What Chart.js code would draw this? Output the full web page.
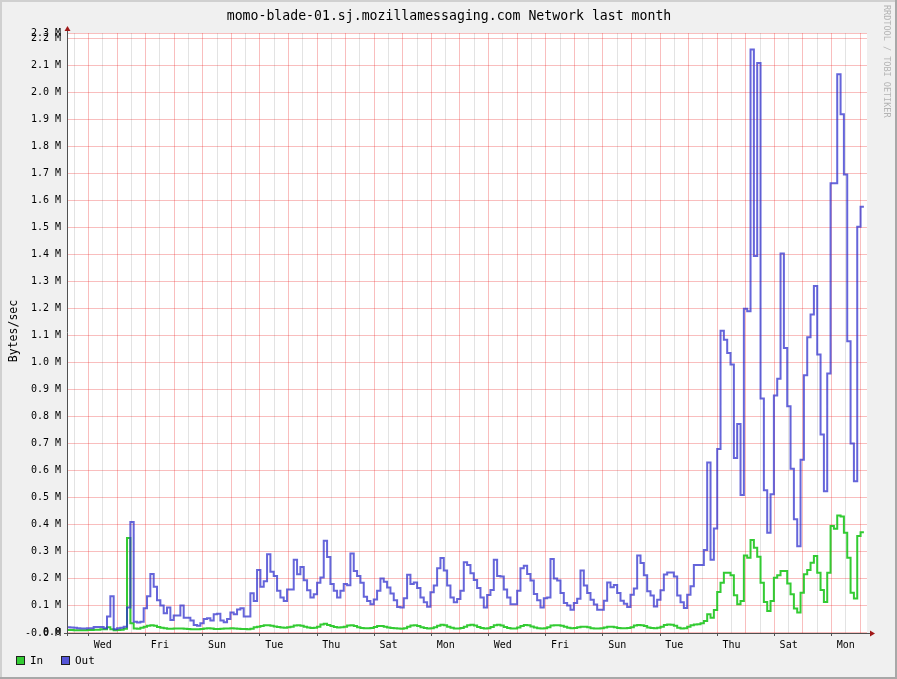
<!DOCTYPE html>
<html>
<head>
<meta charset="utf-8">
<title>momo-blade-01 Network last month</title>
<script src="https://cdn.jsdelivr.net/npm/chart.js@4.4.1/dist/chart.umd.min.js"></script>
<style>
  html, body { margin: 0; padding: 0; background: #f0f0f0; }
  canvas { display: block; }
</style>
</head>
<body>
<canvas id="chart-network" width="897" height="679"></canvas>
<script>
// samples are 2.8 h averages, first one starts 18 h before the first Wednesday 00:00
const startHour = -18;
const stepHours = 2.8;

// Bytes/sec in millions
const inValues = [
    0.010, 0.010, 0.009, 0.009, 0.009, 0.009, 0.010, 0.010, 0.011, 0.011,
    0.012, 0.012, 0.020, 0.012, 0.009, 0.010, 0.011, 0.014, 0.350, 0.035,
    0.015, 0.014, 0.018, 0.022, 0.025, 0.027, 0.025, 0.021, 0.018, 0.016,
    0.014, 0.014, 0.015, 0.015, 0.015, 0.014, 0.013, 0.012, 0.012, 0.012,
    0.013, 0.015, 0.016, 0.015, 0.013, 0.013, 0.014, 0.015, 0.015, 0.016,
    0.015, 0.014, 0.013, 0.013, 0.012, 0.014, 0.020, 0.022, 0.024, 0.027,
    0.027, 0.025, 0.023, 0.021, 0.019, 0.018, 0.020, 0.022, 0.026, 0.027,
    0.025, 0.022, 0.019, 0.017, 0.018, 0.022, 0.030, 0.033, 0.028, 0.024,
    0.021, 0.019, 0.020, 0.022, 0.026, 0.027, 0.024, 0.020, 0.017, 0.016,
    0.016, 0.017, 0.021, 0.024, 0.024, 0.022, 0.019, 0.017, 0.016, 0.015,
    0.014, 0.016, 0.022, 0.026, 0.027, 0.024, 0.020, 0.017, 0.015, 0.016,
    0.020, 0.025, 0.029, 0.027, 0.022, 0.018, 0.015, 0.015, 0.017, 0.022,
    0.027, 0.029, 0.026, 0.021, 0.017, 0.015, 0.016, 0.021, 0.027, 0.029,
    0.026, 0.021, 0.017, 0.015, 0.015, 0.019, 0.024, 0.028, 0.027, 0.023,
    0.019, 0.016, 0.015, 0.016, 0.020, 0.026, 0.027, 0.027, 0.025, 0.022,
    0.018, 0.016, 0.017, 0.020, 0.022, 0.022, 0.020, 0.016, 0.015, 0.015,
    0.016, 0.019, 0.022, 0.022, 0.020, 0.017, 0.016, 0.016, 0.017, 0.020,
    0.026, 0.028, 0.027, 0.024, 0.019, 0.017, 0.016, 0.018, 0.022, 0.028,
    0.030, 0.029, 0.025, 0.018, 0.015, 0.016, 0.022, 0.027, 0.030, 0.031,
    0.035, 0.043, 0.068, 0.055, 0.084, 0.150, 0.185, 0.222, 0.222, 0.212,
    0.138, 0.105, 0.117, 0.286, 0.277, 0.343, 0.314, 0.281, 0.185, 0.113,
    0.080, 0.117, 0.203, 0.212, 0.228, 0.228, 0.182, 0.142, 0.089, 0.074,
    0.148, 0.216, 0.232, 0.259, 0.284, 0.222, 0.158, 0.113, 0.222, 0.395,
    0.385, 0.434, 0.430, 0.370, 0.277, 0.148, 0.126, 0.358, 0.372
];
const outValues = [
    0.020, 0.019, 0.018, 0.016, 0.015, 0.015, 0.016, 0.016, 0.021, 0.021,
    0.021, 0.016, 0.060, 0.135, 0.012, 0.016, 0.018, 0.022, 0.093, 0.410,
    0.040, 0.037, 0.040, 0.090, 0.135, 0.217, 0.170, 0.120, 0.100, 0.072,
    0.093, 0.047, 0.063, 0.063, 0.100, 0.055, 0.055, 0.045, 0.028, 0.025,
    0.035, 0.050, 0.053, 0.045, 0.068, 0.070, 0.045, 0.038, 0.050, 0.074,
    0.068, 0.086, 0.090, 0.060, 0.060, 0.146, 0.117, 0.232, 0.170, 0.190,
    0.290, 0.225, 0.210, 0.155, 0.130, 0.117, 0.160, 0.160, 0.270, 0.216,
    0.243, 0.194, 0.157, 0.130, 0.142, 0.185, 0.204, 0.340, 0.280, 0.180,
    0.155, 0.130, 0.155, 0.180, 0.175, 0.293, 0.228, 0.210, 0.185, 0.133,
    0.117, 0.105, 0.123, 0.155, 0.200, 0.188, 0.167, 0.145, 0.120, 0.095,
    0.093, 0.127, 0.214, 0.180, 0.186, 0.165, 0.130, 0.112, 0.096, 0.149,
    0.174, 0.238, 0.276, 0.230, 0.174, 0.130, 0.112, 0.124, 0.155, 0.261,
    0.250, 0.220, 0.195, 0.165, 0.130, 0.093, 0.139, 0.158, 0.270, 0.210,
    0.208, 0.160, 0.130, 0.105, 0.105, 0.155, 0.238, 0.248, 0.217, 0.193,
    0.143, 0.120, 0.093, 0.127, 0.130, 0.273, 0.200, 0.193, 0.147, 0.110,
    0.100, 0.085, 0.110, 0.125, 0.230, 0.174, 0.147, 0.122, 0.104, 0.085,
    0.085, 0.118, 0.186, 0.168, 0.176, 0.147, 0.118, 0.107, 0.095, 0.140,
    0.163, 0.286, 0.258, 0.212, 0.153, 0.137, 0.097, 0.122, 0.157, 0.215,
    0.223, 0.223, 0.208, 0.137, 0.112, 0.091, 0.140, 0.172, 0.250, 0.250,
    0.250, 0.306, 0.630, 0.270, 0.386, 0.680, 1.118, 1.085, 1.036, 0.993,
    0.647, 0.773, 0.510, 1.200, 1.190, 2.160, 1.395, 2.110, 0.867, 0.527,
    0.370, 0.512, 0.878, 0.940, 1.404, 1.054, 0.838, 0.607, 0.420, 0.320,
    0.640, 0.953, 1.094, 1.178, 1.284, 1.030, 0.734, 0.524, 0.960, 1.664,
    1.664, 2.068, 1.920, 1.697, 1.079, 0.700, 0.561, 1.503, 1.577
];

// axis labels
const dayLabels = ["Wed", "Fri", "Sun", "Tue", "Thu", "Sat", "Mon",
                   "Wed", "Fri", "Sun", "Tue", "Thu", "Sat", "Mon"];
const yTickValues = [0, 0.1, 0.2, 0.3, 0.4, 0.5, 0.6, 0.7, 0.8, 0.9, 1.0, 1.1,
                     1.2, 1.3, 1.4, 1.5, 1.6, 1.7, 1.8, 1.9, 2.0, 2.1, 2.2];
const yTickLabels = ["0.0", "0.1 M", "0.2 M", "0.3 M", "0.4 M", "0.5 M", "0.6 M",
                     "0.7 M", "0.8 M", "0.9 M", "1.0 M", "1.1 M", "1.2 M", "1.3 M",
                     "1.4 M", "1.5 M", "1.6 M", "1.7 M", "1.8 M", "1.9 M", "2.0 M",
                     "2.1 M", "2.2 M"];
const yMinLabel = "-0.0 M";
const yMaxLabel = "2.3 M";

const Y_MIN = -1500;
const Y_MAX = 2221000;
const X_MIN = startHour;
const X_MAX = 653.8;

const MONO = "'DejaVu Sans Mono', monospace";
const RED_GRID = "rgba(235, 40, 40, 0.30)";
const GREY_GRID = "rgba(0, 0, 0, 0.11)";
const IN_COLOR = "rgba(40, 200, 40, 0.95)";
const OUT_COLOR = "rgba(50, 50, 205, 0.75)";

function toPoints(vals) {
    const pts = vals.map((v, i) => ({ x: startHour + i * stepHours, y: v * 1e6 }));
    pts.push({ x: startHour + vals.length * stepHours, y: vals[vals.length - 1] * 1e6 });
    return pts;
}

// frame, title, legend, axis arrows - drawn like rrdtool does
const rrdFrame = {
    id: "rrdFrame",
    beforeDraw(chart) {
        const ctx = chart.ctx;
        const a = chart.chartArea;
        ctx.save();
        ctx.fillStyle = "#f0f0f0";
        ctx.fillRect(0, 0, chart.width, chart.height);
        ctx.fillStyle = "#d0d0d0";
        ctx.fillRect(0, 0, chart.width, 2);
        ctx.fillRect(0, 0, 2, chart.height);
        ctx.fillStyle = "#a8a8a8";
        ctx.fillRect(0, chart.height - 2, chart.width, 2);
        ctx.fillRect(chart.width - 2, 0, 2, chart.height);
        ctx.fillStyle = "#ffffff";
        ctx.fillRect(a.left, a.top, a.right - a.left, a.bottom - a.top);
        ctx.restore();
    },
    afterDraw(chart) {
        const ctx = chart.ctx;
        const a = chart.chartArea;
        ctx.save();

        // axes
        ctx.strokeStyle = "#505050";
        ctx.lineWidth = 1;
        ctx.beginPath();
        ctx.moveTo(a.left + 0.5, a.bottom + 3);
        ctx.lineTo(a.left + 0.5, a.top - 4);
        ctx.moveTo(a.left - 3, a.bottom + 0.5);
        ctx.lineTo(a.right + 3, a.bottom + 0.5);
        ctx.stroke();

        ctx.fillStyle = "#a01818";
        ctx.beginPath();
        ctx.moveTo(a.left + 0.5, a.top - 7);
        ctx.lineTo(a.left - 2.5, a.top - 2);
        ctx.lineTo(a.left + 3.5, a.top - 2);
        ctx.closePath();
        ctx.fill();
        ctx.beginPath();
        ctx.moveTo(a.right + 8, a.bottom + 0.5);
        ctx.lineTo(a.right + 3, a.bottom - 2.5);
        ctx.lineTo(a.right + 3, a.bottom + 3.5);
        ctx.closePath();
        ctx.fill();

        // title
        ctx.fillStyle = "#000";
        ctx.font = "13.2px " + MONO;
        ctx.textAlign = "center";
        ctx.textBaseline = "middle";
        ctx.fillText("momo-blade-01.sj.mozillamessaging.com Network last month", 449, 17);

        // y axis title
        ctx.save();
        ctx.translate(14, 331);
        ctx.rotate(-Math.PI / 2);
        ctx.font = "11.5px " + MONO;
        ctx.fillText("Bytes/sec", 0, 0);
        ctx.restore();

        // watermark
        ctx.save();
        ctx.translate(886, 5);
        ctx.rotate(Math.PI / 2);
        ctx.font = "8.5px " + MONO;
        ctx.fillStyle = "#b4b4b4";
        ctx.textAlign = "left";
        ctx.fillText("RRDTOOL / TOBI OETIKER", 0, 0);
        ctx.restore();

        // legend
        ctx.font = "11px " + MONO;
        ctx.textAlign = "left";
        chart.data.datasets.forEach((ds, i) => {
            const x = 16 + i * 45;
            ctx.fillStyle = ds.legendColor;
            ctx.fillRect(x, 656, 9, 9);
            ctx.strokeStyle = "#202020";
            ctx.strokeRect(x + 0.5, 656.5, 8, 8);
            ctx.fillStyle = "#000";
            ctx.fillText(ds.label, x + 14, 661);
        });

        ctx.restore();
    },
};

var ctx1 = document.getElementById("chart-network").getContext("2d");

new Chart(ctx1, {
    type: "line",
    data: {
        datasets: [
            {
                label: "In",
                data: toPoints(inValues),
                borderColor: IN_COLOR,
                legendColor: "#33cc33",
                borderWidth: 2,
                pointRadius: 0,
                stepped: true,
                fill: false,
                order: 1,
            },
            {
                label: "Out",
                data: toPoints(outValues),
                borderColor: OUT_COLOR,
                legendColor: "#5555d8",
                borderWidth: 2,
                pointRadius: 0,
                stepped: true,
                fill: false,
                order: 0,
            },
        ],
    },
    options: {
        responsive: false,
        animation: false,
        events: [],
        layout: {
            padding: { left: 0, top: 33, right: 30, bottom: 0 },
        },
        plugins: {
            legend: { display: false },
            title: { display: false },
            tooltip: { enabled: false },
        },
        scales: {
            x: {
                type: "linear",
                min: X_MIN,
                max: X_MAX,
                afterFit: (scale) => {
                    scale.height = 46;
                },
                afterBuildTicks: (scale) => {
                    const ticks = [];
                    for (let h = -12; h <= 648; h += 12) {
                        ticks.push({ value: h });
                    }
                    scale.ticks = ticks;
                },
                border: { display: false },
                grid: {
                    drawTicks: true,
                    tickLength: 3,
                    color: (c) => (c.tick && c.tick.value % 24 === 0 ? RED_GRID : GREY_GRID),
                    tickColor: (c) =>
                        c.tick && c.tick.value % 48 === 0 ? "#505050" : "rgba(0,0,0,0)",
                },
                ticks: {
                    autoSkip: false,
                    maxRotation: 0,
                    padding: 3,
                    color: "#000",
                    font: { size: 10, family: "DejaVu Sans Mono" },
                    callback: (value) => {
                        const k = (value - 12) / 48;
                        return Number.isInteger(k) && k >= 0 && k < dayLabels.length ? dayLabels[k] : "";
                    },
                },
            },
            y: {
                min: Y_MIN,
                max: Y_MAX,
                afterFit: (scale) => {
                    scale.width = 67;
                },
                afterBuildTicks: (scale) => {
                    const ticks = [{ value: Y_MIN }];
                    yTickValues.forEach((v) => ticks.push({ value: v * 1e6 }));
                    ticks.push({ value: Y_MAX });
                    scale.ticks = ticks;
                },
                border: { display: false },
                grid: {
                    drawTicks: false,
                    color: (c) => (c.index === 0 ? "rgba(0,0,0,0)" : RED_GRID),
                },
                ticks: {
                    autoSkip: false,
                    padding: 6,
                    color: "#000",
                    font: { size: 10, family: "DejaVu Sans Mono" },
                    callback: (value, index) => {
                        if (index === 0) return yMinLabel;
                        if (index === yTickValues.length + 1) return yMaxLabel;
                        return yTickLabels[index - 1];
                    },
                },
            },
        },
    },
    plugins: [rrdFrame],
});
</script>
</body>
</html>
